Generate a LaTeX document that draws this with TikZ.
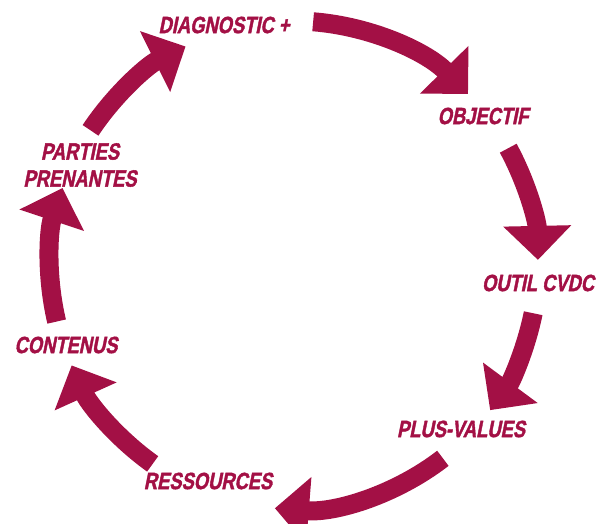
\documentclass[tikz,border=0pt]{standalone}
\usepackage{fontspec}
\usetikzlibrary{arrows.meta}
\newfontfamily\labfont{Liberation Sans Bold}[FakeStretch=0.78,FakeSlant=0.2,FakeBold=1.6]
\definecolor{crim}{RGB}{163,16,69}
\begin{document}
\begin{tikzpicture}[x=1pt,y=1pt,
  cyc/.style={draw=crim, line width=19pt, -{Triangle[width=66pt,length=34pt]}},
  lab/.style={text=crim, font=\labfont\fontsize{23.5}{27}\selectfont, align=center, inner sep=0pt}]
\useasboundingbox (0,0) rectangle (599,-523);
\coordinate (c) at (294,-265);
% labels
\node[lab] (diag)  at (224,-25)  {DIAGNOSTIC +};
\node[lab] (obj)   at (483,-116) {OBJECTIF};
\node[lab] (outil) at (538,-283) {OUTIL CVDC};
\node[lab] (plus)  at (461,-429) {PLUS-VALUES};
\node[lab] (ress)  at (208,-481) {RESSOURCES};
\node[lab] (cont)  at (66,-345)  {CONTENUS};
\node[lab] (part)  at (80,-165)  {PARTIES\\PRENANTES};
% arrows on the cycle
\draw[cyc] ([shift={(193.4:244pt)}]c) arc[start angle=193.4, end angle=161.6, radius=244pt];
\draw[cyc] ([shift={(146.5:244pt)}]c) arc[start angle=146.5, end angle=116.4, radius=244pt];
\draw[cyc] ([shift={(85.5:244pt)}]c) arc[start angle=85.5, end angle=44.5, radius=244pt];
\draw[cyc] ([shift={(28.6:244pt)}]c) arc[start angle=28.6, end angle=1.2, radius=244pt];
\draw[cyc] ([shift={(-11.4:244pt)}]c) arc[start angle=-11.4, end angle=-36.5, radius=244pt];
\draw[cyc] ([shift={(-52.4:244pt)}]c) arc[start angle=-52.4, end angle=-94.5, radius=244pt];
\draw[cyc] ([shift={(-125.4:244pt)}]c) arc[start angle=-125.4, end angle=-155.7, radius=244pt];
\end{tikzpicture}
\end{document}
